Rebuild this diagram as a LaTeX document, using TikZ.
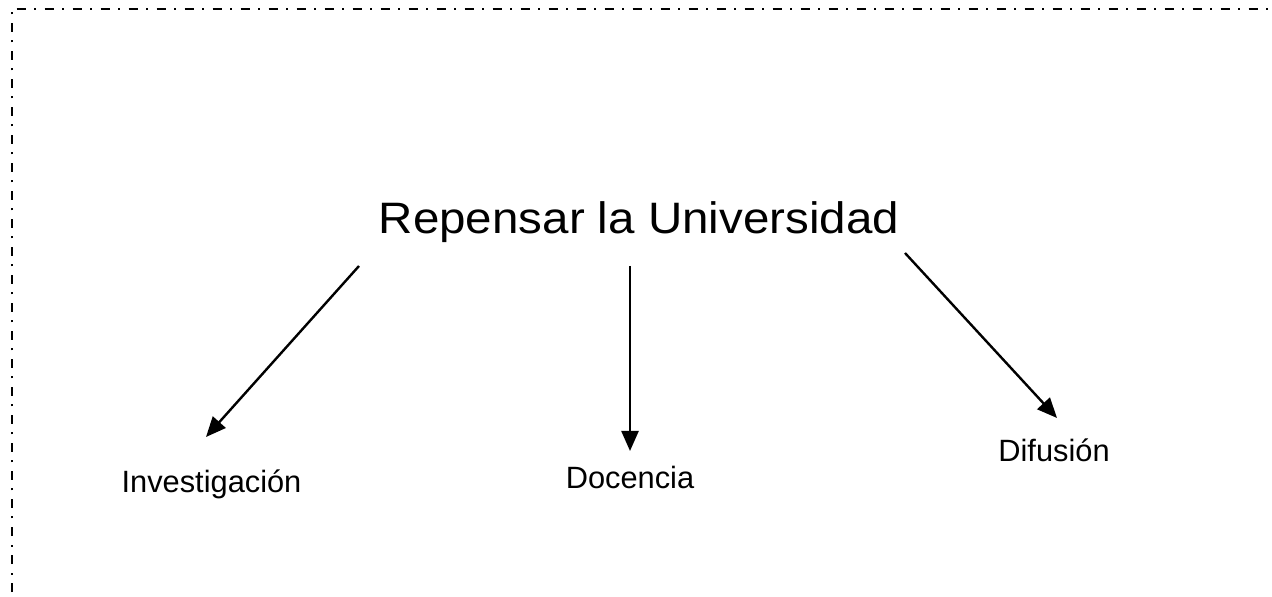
\documentclass[tikz,border=0pt]{standalone}
\usepackage{fontspec}
\setmainfont{Liberation Sans}
\usetikzlibrary{arrows.meta}
\begin{document}
\begin{tikzpicture}[x=0.5pt,y=-0.5pt,
  title/.style={anchor=base,inner sep=0pt,font=\fontsize{22}{26}\selectfont},
  lbl/.style={anchor=base,inner sep=0pt,font=\fontsize{15.4}{18}\selectfont},
  arr/.style={line width=1.2pt,-{Triangle[length=10pt,width=8.5pt]}},
  frame/.style={line width=1pt,dash pattern=on 4.5pt off 4.25pt on 1pt off 4.25pt}]
\useasboundingbox (0,0) rectangle (1272,597);
\draw[frame] (11.5,620) -- (11.5,9) -- (1290,9);
\node[title] (t) at (639,234) {\scalebox{1.08}[1]{Repensar la Universidad}};
\node[lbl] (inv) at (211.5,492.5) {Investigación};
\node[lbl] (doc) at (630,488.5) {Docencia};
\node[lbl] (dif) at (1054,462) {Difusión};
\coordinate (s1) at (359,266);
\coordinate (e1) at (206,437);
\coordinate (s2) at (630,266);
\coordinate (e2) at (630,451);
\coordinate (s3) at (905,253);
\coordinate (e3) at (1057,418);
\draw[arr] (s1) -- (e1);
\draw[arr] (s2) -- (e2);
\draw[arr] (s3) -- (e3);
\end{tikzpicture}
\end{document}
